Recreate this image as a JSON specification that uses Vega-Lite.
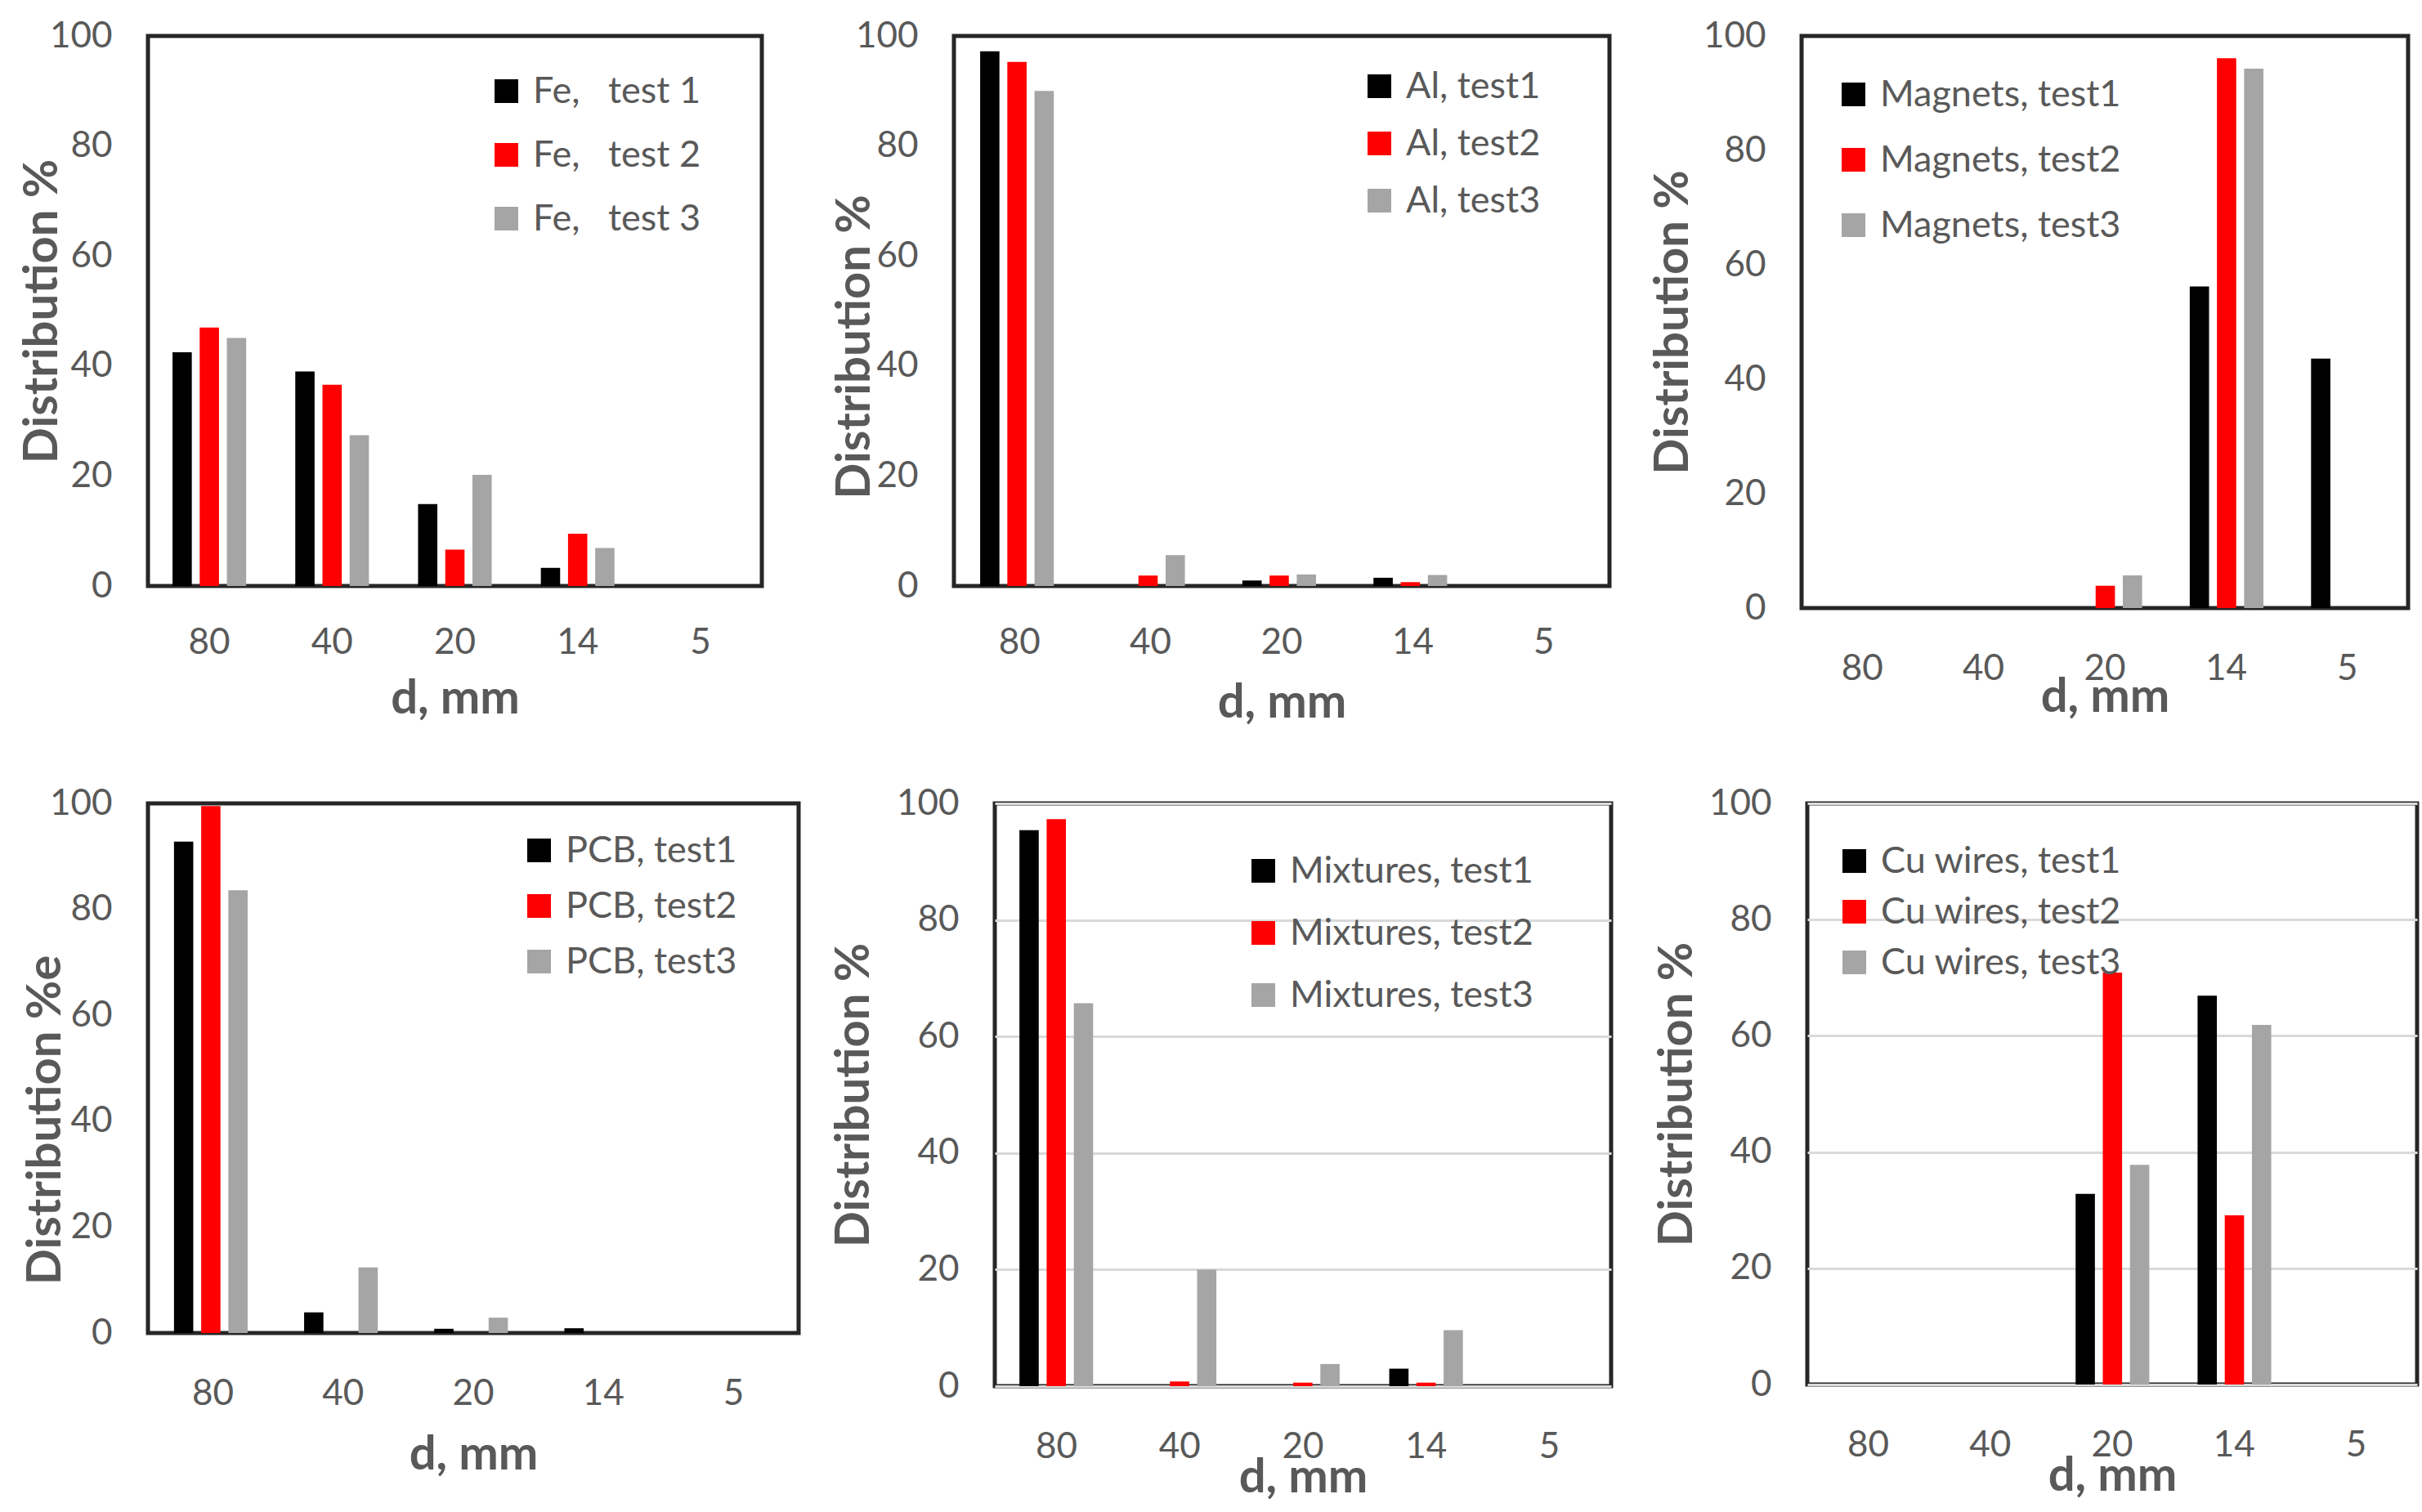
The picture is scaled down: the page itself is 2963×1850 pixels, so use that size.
{
  "$schema": "https://vega.github.io/schema/vega-lite/v6.json",
  "background": "white",
  "padding": {"left": 20, "top": 19, "right": 5, "bottom": 5},
  "data": {
    "values": [
      {"panel": "Fe", "d": "80", "test": "1", "value": 42.5},
      {"panel": "Fe", "d": "80", "test": "2", "value": 47.0},
      {"panel": "Fe", "d": "80", "test": "3", "value": 45.1},
      {"panel": "Fe", "d": "40", "test": "1", "value": 39.0},
      {"panel": "Fe", "d": "40", "test": "2", "value": 36.6},
      {"panel": "Fe", "d": "40", "test": "3", "value": 27.4},
      {"panel": "Fe", "d": "20", "test": "1", "value": 14.9},
      {"panel": "Fe", "d": "20", "test": "2", "value": 6.6},
      {"panel": "Fe", "d": "20", "test": "3", "value": 20.2},
      {"panel": "Fe", "d": "14", "test": "1", "value": 3.3},
      {"panel": "Fe", "d": "14", "test": "2", "value": 9.5},
      {"panel": "Fe", "d": "14", "test": "3", "value": 6.9},
      {"panel": "Fe", "d": "5", "test": "1", "value": 0},
      {"panel": "Fe", "d": "5", "test": "2", "value": 0},
      {"panel": "Fe", "d": "5", "test": "3", "value": 0},
      {"panel": "Al", "d": "80", "test": "1", "value": 97.2},
      {"panel": "Al", "d": "80", "test": "2", "value": 95.3},
      {"panel": "Al", "d": "80", "test": "3", "value": 90.0},
      {"panel": "Al", "d": "40", "test": "1", "value": 0},
      {"panel": "Al", "d": "40", "test": "2", "value": 1.9},
      {"panel": "Al", "d": "40", "test": "3", "value": 5.6},
      {"panel": "Al", "d": "20", "test": "1", "value": 1.0},
      {"panel": "Al", "d": "20", "test": "2", "value": 1.9},
      {"panel": "Al", "d": "20", "test": "3", "value": 2.1},
      {"panel": "Al", "d": "14", "test": "1", "value": 1.5},
      {"panel": "Al", "d": "14", "test": "2", "value": 0.7},
      {"panel": "Al", "d": "14", "test": "3", "value": 2.0},
      {"panel": "Al", "d": "5", "test": "1", "value": 0},
      {"panel": "Al", "d": "5", "test": "2", "value": 0},
      {"panel": "Al", "d": "5", "test": "3", "value": 0},
      {"panel": "Magnets", "d": "80", "test": "1", "value": 0},
      {"panel": "Magnets", "d": "80", "test": "2", "value": 0},
      {"panel": "Magnets", "d": "80", "test": "3", "value": 0},
      {"panel": "Magnets", "d": "40", "test": "1", "value": 0},
      {"panel": "Magnets", "d": "40", "test": "2", "value": 0},
      {"panel": "Magnets", "d": "40", "test": "3", "value": 0},
      {"panel": "Magnets", "d": "20", "test": "1", "value": 0},
      {"panel": "Magnets", "d": "20", "test": "2", "value": 3.9},
      {"panel": "Magnets", "d": "20", "test": "3", "value": 5.7},
      {"panel": "Magnets", "d": "14", "test": "1", "value": 56.2},
      {"panel": "Magnets", "d": "14", "test": "2", "value": 96.1},
      {"panel": "Magnets", "d": "14", "test": "3", "value": 94.3},
      {"panel": "Magnets", "d": "5", "test": "1", "value": 43.6},
      {"panel": "Magnets", "d": "5", "test": "2", "value": 0},
      {"panel": "Magnets", "d": "5", "test": "3", "value": 0},
      {"panel": "PCB", "d": "80", "test": "1", "value": 92.8},
      {"panel": "PCB", "d": "80", "test": "2", "value": 99.5},
      {"panel": "PCB", "d": "80", "test": "3", "value": 83.6},
      {"panel": "PCB", "d": "40", "test": "1", "value": 3.9},
      {"panel": "PCB", "d": "40", "test": "2", "value": 0},
      {"panel": "PCB", "d": "40", "test": "3", "value": 12.4},
      {"panel": "PCB", "d": "20", "test": "1", "value": 0.8},
      {"panel": "PCB", "d": "20", "test": "2", "value": 0},
      {"panel": "PCB", "d": "20", "test": "3", "value": 2.9},
      {"panel": "PCB", "d": "14", "test": "1", "value": 0.9},
      {"panel": "PCB", "d": "14", "test": "2", "value": 0},
      {"panel": "PCB", "d": "14", "test": "3", "value": 0},
      {"panel": "PCB", "d": "5", "test": "1", "value": 0},
      {"panel": "PCB", "d": "5", "test": "2", "value": 0},
      {"panel": "PCB", "d": "5", "test": "3", "value": 0},
      {"panel": "Mixtures", "d": "80", "test": "1", "value": 95.4},
      {"panel": "Mixtures", "d": "80", "test": "2", "value": 97.3},
      {"panel": "Mixtures", "d": "80", "test": "3", "value": 65.7},
      {"panel": "Mixtures", "d": "40", "test": "1", "value": 0},
      {"panel": "Mixtures", "d": "40", "test": "2", "value": 0.8},
      {"panel": "Mixtures", "d": "40", "test": "3", "value": 20.0},
      {"panel": "Mixtures", "d": "20", "test": "1", "value": 0},
      {"panel": "Mixtures", "d": "20", "test": "2", "value": 0.6},
      {"panel": "Mixtures", "d": "20", "test": "3", "value": 3.8},
      {"panel": "Mixtures", "d": "14", "test": "1", "value": 3.0},
      {"panel": "Mixtures", "d": "14", "test": "2", "value": 0.6},
      {"panel": "Mixtures", "d": "14", "test": "3", "value": 9.6},
      {"panel": "Mixtures", "d": "5", "test": "1", "value": 0},
      {"panel": "Mixtures", "d": "5", "test": "2", "value": 0},
      {"panel": "Mixtures", "d": "5", "test": "3", "value": 0},
      {"panel": "Cu", "d": "80", "test": "1", "value": 0},
      {"panel": "Cu", "d": "80", "test": "2", "value": 0},
      {"panel": "Cu", "d": "80", "test": "3", "value": 0},
      {"panel": "Cu", "d": "40", "test": "1", "value": 0},
      {"panel": "Cu", "d": "40", "test": "2", "value": 0},
      {"panel": "Cu", "d": "40", "test": "3", "value": 0},
      {"panel": "Cu", "d": "20", "test": "1", "value": 32.8},
      {"panel": "Cu", "d": "20", "test": "2", "value": 70.9},
      {"panel": "Cu", "d": "20", "test": "3", "value": 37.8},
      {"panel": "Cu", "d": "14", "test": "1", "value": 66.9},
      {"panel": "Cu", "d": "14", "test": "2", "value": 29.1},
      {"panel": "Cu", "d": "14", "test": "3", "value": 61.9},
      {"panel": "Cu", "d": "5", "test": "1", "value": 0},
      {"panel": "Cu", "d": "5", "test": "2", "value": 0},
      {"panel": "Cu", "d": "5", "test": "3", "value": 0}
    ]
  },
  "spacing": 66,
  "resolve": {"scale": {"color": "independent"}, "legend": {"color": "independent"}},
  "vconcat": [
    {
      "bounds": "flush",
      "spacing": 235,
      "resolve": {"scale": {"color": "independent"}, "legend": {"color": "independent"}},
      "hconcat": [
        {
          "width": 751,
          "height": 673,
          "transform": [{"filter": "datum.panel === 'Fe'"}],
          "mark": "bar",
          "encoding": {
            "x": {"field": "d", "type": "ordinal", "scale": {"domain": ["80", "40", "20", "14", "5"], "paddingInner": 0.4, "paddingOuter": 0.2}, "axis": {"title": "d, mm", "labelPadding": 47, "titlePadding": 18}},
            "xOffset": {"field": "test", "type": "nominal", "scale": {"domain": ["1", "2", "3"], "paddingInner": 0.29, "paddingOuter": 0}},
            "y": {"field": "value", "type": "quantitative", "scale": {"domain": [0, 100], "nice": false}, "axis": {"title": "Distribution %", "titlePadding": -21, "values": [0, 20, 40, 60, 80, 100]}},
            "color": {"field": "test", "type": "nominal", "scale": {"domain": ["1", "2", "3"], "range": ["#000000", "#ff0000", "#a5a5a5"]}, "legend": {"title": null, "labelExpr": "'Fe,\u00a0\u00a0 test ' + datum.label", "legendX": 416, "legendY": 45, "rowPadding": 32}}
          }
        },
        {
          "width": 802,
          "height": 673,
          "transform": [{"filter": "datum.panel === 'Al'"}],
          "mark": "bar",
          "encoding": {
            "x": {"field": "d", "type": "ordinal", "scale": {"domain": ["80", "40", "20", "14", "5"], "paddingInner": 0.4, "paddingOuter": 0.2}, "axis": {"title": "d, mm", "labelPadding": 47, "titlePadding": 23}},
            "xOffset": {"field": "test", "type": "nominal", "scale": {"domain": ["1", "2", "3"], "paddingInner": 0.29, "paddingOuter": 0}},
            "y": {"field": "value", "type": "quantitative", "scale": {"domain": [0, 100], "nice": false}, "axis": {"title": "Distribution %", "titlePadding": -29, "titleY": 380, "values": [0, 20, 40, 60, 80, 100]}},
            "color": {"field": "test", "type": "nominal", "scale": {"domain": ["1", "2", "3"], "range": ["#000000", "#ff0000", "#a5a5a5"]}, "legend": {"title": null, "labelExpr": "'Al, test' + datum.label", "legendX": 498, "legendY": 39, "rowPadding": 24}}
          }
        },
        {
          "width": 742,
          "height": 700,
          "transform": [{"filter": "datum.panel === 'Magnets'"}],
          "mark": "bar",
          "encoding": {
            "x": {"field": "d", "type": "ordinal", "scale": {"domain": ["80", "40", "20", "14", "5"], "paddingInner": 0.4, "paddingOuter": 0.2}, "axis": {"title": "d, mm", "titlePadding": -16}},
            "xOffset": {"field": "test", "type": "nominal", "scale": {"domain": ["1", "2", "3"], "paddingInner": 0.29, "paddingOuter": 0}},
            "y": {"field": "value", "type": "quantitative", "scale": {"domain": [0, 100], "nice": false}, "axis": {"title": "Distribution %", "titlePadding": 7, "values": [0, 20, 40, 60, 80, 100]}},
            "color": {"field": "test", "type": "nominal", "scale": {"domain": ["1", "2", "3"], "range": ["#000000", "#ff0000", "#a5a5a5"]}, "legend": {"title": null, "labelExpr": "'Magnets, test' + datum.label", "legendX": 41, "legendY": 49, "rowPadding": 34}}
          }
        }
      ]
    },
    {
      "bounds": "flush",
      "spacing": 240,
      "resolve": {"scale": {"color": "independent"}, "legend": {"color": "independent"}},
      "hconcat": [
        {
          "width": 796,
          "height": 648,
          "transform": [{"filter": "datum.panel === 'PCB'"}],
          "mark": "bar",
          "encoding": {
            "x": {"field": "d", "type": "ordinal", "scale": {"domain": ["80", "40", "20", "14", "5"], "paddingInner": 0.4, "paddingOuter": 0.2}, "axis": {"title": "d, mm", "titlePadding": 24}},
            "xOffset": {"field": "test", "type": "nominal", "scale": {"domain": ["1", "2", "3"], "paddingInner": 0.29, "paddingOuter": 0}},
            "y": {"field": "value", "type": "quantitative", "scale": {"domain": [0, 100], "nice": false}, "axis": {"title": "Distribution %e", "titlePadding": -25, "titleY": 387, "values": [0, 20, 40, 60, 80, 100]}},
            "color": {"field": "test", "type": "nominal", "scale": {"domain": ["1", "2", "3"], "range": ["#000000", "#ff0000", "#a5a5a5"]}, "legend": {"title": null, "labelExpr": "'PCB, test' + datum.label", "legendX": 456, "legendY": 35, "rowPadding": 22}}
          }
        },
        {
          "width": 754,
          "height": 713,
          "transform": [{"filter": "datum.panel === 'Mixtures'"}],
          "mark": "bar",
          "encoding": {
            "x": {"field": "d", "type": "ordinal", "scale": {"domain": ["80", "40", "20", "14", "5"], "paddingInner": 0.4, "paddingOuter": 0.2}, "axis": {"title": "d, mm", "titlePadding": -13}},
            "xOffset": {"field": "test", "type": "nominal", "scale": {"domain": ["1", "2", "3"], "paddingInner": 0.29, "paddingOuter": 0}},
            "y": {"field": "value", "type": "quantitative", "scale": {"domain": [0, 100], "nice": false}, "axis": {"title": "Distribution %", "titlePadding": 22, "grid": true, "values": [0, 20, 40, 60, 80, 100]}},
            "color": {"field": "test", "type": "nominal", "scale": {"domain": ["1", "2", "3"], "range": ["#000000", "#ff0000", "#a5a5a5"]}, "legend": {"title": null, "labelExpr": "'Mixtures, test' + datum.label", "legendX": 306, "legendY": 60, "rowPadding": 30}}
          }
        },
        {
          "width": 746,
          "height": 711,
          "transform": [{"filter": "datum.panel === 'Cu'"}],
          "mark": "bar",
          "encoding": {
            "x": {"field": "d", "type": "ordinal", "scale": {"domain": ["80", "40", "20", "14", "5"], "paddingInner": 0.4, "paddingOuter": 0.2}, "axis": {"title": "d, mm", "titlePadding": -13}},
            "xOffset": {"field": "test", "type": "nominal", "scale": {"domain": ["1", "2", "3"], "paddingInner": 0.29, "paddingOuter": 0}},
            "y": {"field": "value", "type": "quantitative", "scale": {"domain": [0, 100], "nice": false}, "axis": {"title": "Distribution %", "titlePadding": 9, "grid": true, "values": [0, 20, 40, 60, 80, 100]}},
            "color": {"field": "test", "type": "nominal", "scale": {"domain": ["1", "2", "3"], "range": ["#000000", "#ff0000", "#a5a5a5"]}, "legend": {"title": null, "labelExpr": "'Cu wires, test' + datum.label", "legendX": 35, "legendY": 48, "rowPadding": 16}}
          }
        }
      ]
    }
  ],
  "config": {
    "font": "Lato",
    "view": {"stroke": "#262626", "strokeWidth": 5},
    "axis": {
      "domain": false,
      "ticks": false,
      "grid": false,
      "labelFont": "Lato",
      "labelFontSize": 44,
      "labelColor": "#595959",
      "labelPadding": 44,
      "titleFont": "Lato",
      "titleFontSize": 58,
      "titleFontWeight": "bold",
      "titleColor": "#595959",
      "gridColor": "#d9d9d9",
      "gridWidth": 3
    },
    "axisX": {"labelAngle": 0, "labelPadding": 52},
    "legend": {
      "orient": "none",
      "padding": 0,
      "symbolType": "square",
      "symbolSize": 841,
      "symbolStrokeWidth": 0,
      "labelFont": "Lato",
      "labelFontSize": 45,
      "labelColor": "#595959",
      "labelOffset": 10,
      "labelLimit": 0
    }
  }
}
